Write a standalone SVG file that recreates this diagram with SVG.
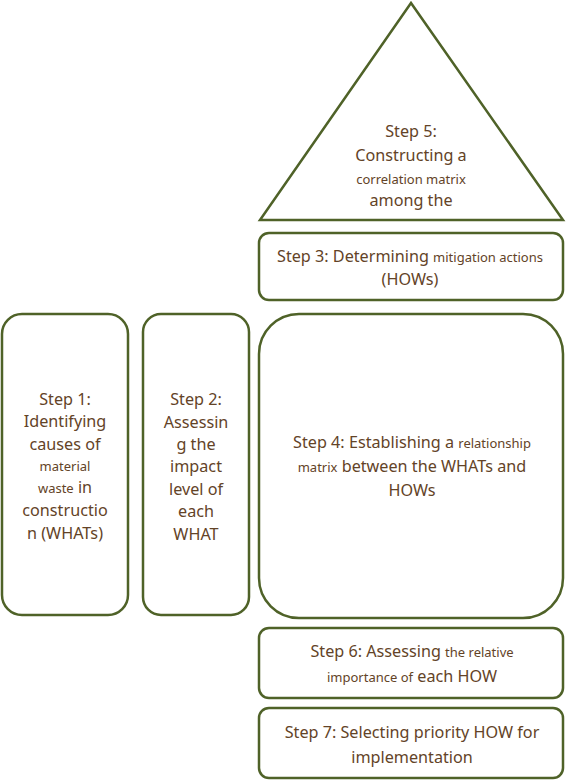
<svg xmlns="http://www.w3.org/2000/svg" width="566" height="781" viewBox="0 0 566 781">
<style>
.shape{fill:#ffffff;stroke:#4f6228;stroke-width:2.5}
text{font-family:"Noto Sans","Open Sans",sans-serif;font-size:16.2px;fill:#634327;text-anchor:middle}
.s{font-size:13px}
</style>
<rect width="566" height="781" fill="#ffffff"/>
<g id="step5">
<polygon class="shape" points="411,3 260,220 563,220"/>
<text x="411" y="137">Step 5:</text>
<text x="411" y="161">Constructing a</text>
<text x="411" y="184" class="s">correlation matrix</text>
<text x="411" y="206">among the</text>
</g>
<g id="step3">
<rect class="shape" x="259" y="233" width="304" height="67" rx="10"/>
<text x="410" y="262">Step 3: Determining <tspan class="s">mitigation actions</tspan></text>
<text x="410" y="285">(HOWs)</text>
</g>
<g id="step1">
<rect class="shape" x="2" y="314" width="126" height="301" rx="20"/>
<text x="65" y="405">Step 1:</text>
<text x="65" y="427">Identifying</text>
<text x="65" y="450">causes of</text>
<text x="65" y="471" class="s">material</text>
<text x="65" y="493"><tspan class="s">waste</tspan> in</text>
<text x="65" y="516">constructio</text>
<text x="65" y="539">n (WHATs)</text>
</g>
<g id="step2">
<rect class="shape" x="143" y="314" width="106" height="301" rx="18"/>
<text x="196" y="405">Step 2:</text>
<text x="196" y="428">Assessin</text>
<text x="196" y="450">g the</text>
<text x="196" y="472">impact</text>
<text x="196" y="495">level of</text>
<text x="196" y="517">each</text>
<text x="196" y="540">WHAT</text>
</g>
<g id="step4">
<rect class="shape" x="259" y="314" width="304" height="304" rx="40"/>
<text x="412" y="448">Step 4: Establishing a <tspan class="s">relationship</tspan></text>
<text x="412" y="472"><tspan class="s">matrix</tspan> between the WHATs and</text>
<text x="412" y="496">HOWs</text>
</g>
<g id="step6">
<rect class="shape" x="259" y="628" width="304" height="70" rx="10"/>
<text x="412" y="657">Step 6: Assessing <tspan class="s">the relative</tspan></text>
<text x="412" y="682"><tspan class="s">importance of</tspan> each HOW</text>
</g>
<g id="step7">
<rect class="shape" x="259" y="708" width="304" height="70" rx="10"/>
<text x="412" y="738">Step 7: Selecting priority HOW for</text>
<text x="412" y="763">implementation</text>
</g>
<g id="connectors"></g>
</svg>
